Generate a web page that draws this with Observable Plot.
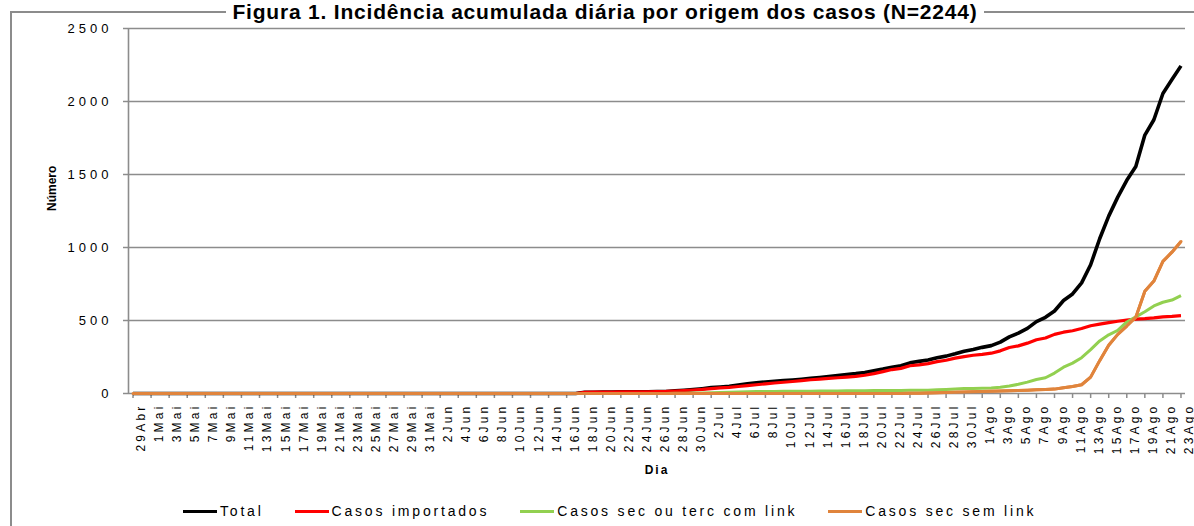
<!DOCTYPE html>
<html><head><meta charset="utf-8">
<script src="https://cdn.jsdelivr.net/npm/d3@7"></script>
<script src="https://cdn.jsdelivr.net/npm/@observablehq/plot@0.6"></script>
<style>
html,body{margin:0;padding:0;background:#fff;overflow:hidden;width:1194px;height:526px;position:relative;font-family:"Liberation Sans",Arial,sans-serif;}
#titlewrap{position:absolute;left:10px;width:1190px;top:0px;text-align:center;}
#title{display:inline-block;background:#fff;padding:0 6px;font:bold 21px/24px "Liberation Sans",sans-serif;letter-spacing:0.8px;color:#000;white-space:nowrap;}
#frame{position:absolute;left:10px;top:11px;width:1210px;height:600px;border:2px solid #8c8c8c;box-sizing:border-box;}
#chart{position:absolute;left:0;top:0;}
#legend{position:absolute;top:503px;left:183px;display:flex;align-items:center;font-size:14px;letter-spacing:2.8px;color:#000;white-space:nowrap;}
#legend .item{display:flex;align-items:center;margin-right:31px;}
#legend .sw{display:inline-block;width:34px;height:3px;margin-right:3px;}
#chart svg g[aria-label="y-axis tick label"] text{letter-spacing:4px;}
</style></head>
<body>
<div id="frame"></div>
<div id="titlewrap"><span id="title">Figura 1. Incidência acumulada diária por origem dos casos (N=2244)</span></div>
<div id="chart"></div>
<div id="legend"></div>
<script>
// ---- data ----
const dayLabels = ["29Abr","1Mai","3Mai","5Mai","7Mai","9Mai","11Mai","13Mai","15Mai","17Mai","19Mai","21Mai","23Mai","25Mai","27Mai","29Mai","31Mai",
  "2Jun","4Jun","6Jun","8Jun","10Jun","12Jun","14Jun","16Jun","18Jun","20Jun","22Jun","24Jun","26Jun","28Jun","30Jun",
  "2Jul","4Jul","6Jul","8Jul","10Jul","12Jul","14Jul","16Jul","18Jul","20Jul","22Jul","24Jul","26Jul","28Jul","30Jul",
  "1Ago","3Ago","5Ago","7Ago","9Ago","11Ago","13Ago","15Ago","17Ago","19Ago","21Ago","23Ago"];

const total = [
  0,0,0,0,0,0,0,0,0,0, 0,0,0,0,0,0,0,0,0,0, 0,0,0,0,0,0,0,0,0,0, 0,0,0,0,0,0,0,0,0,0, 0,0,0,0,0,0,0,0,0,0,
  8,9,10,10,11,11,12,12,13,14,
  18,22,27,33,40,45,50,58,66,73,
  79,84,89,93,98,104,110,116,123,130,
  136,144,156,167,180,190,210,220,230,245,
  256,272,290,302,316,328,352,388,414,446,
  492,522,565,637,682,758,882,1060,1215,1345,
  1460,1555,1770,1875,2055,2150,2244];

const importados = [
  0,0,0,0,0,0,0,0,0,0, 0,0,0,0,0,0,0,0,0,0, 0,0,0,0,0,0,0,0,0,0, 0,0,0,0,0,0,0,0,0,0, 0,0,0,0,0,0,0,0,0,0,
  8,9,10,10,11,11,12,12,13,14,
  17,20,24,28,34,38,42,48,54,60,
  66,72,77,82,88,94,99,104,108,112,
  117,125,136,150,164,172,190,196,205,218,
  228,242,253,262,268,276,292,315,326,345,
  368,380,405,420,430,445,464,475,485,495,
  502,510,513,518,525,528,533];

const secComLink = [
  0,0,0,0,0,0,0,0,0,0, 0,0,0,0,0,0,0,0,0,0, 0,0,0,0,0,0,0,0,0,0, 0,0,0,0,0,0,0,0,0,0, 0,0,0,0,0,0,0,0,0,0,
  0,0,0,0,0,0,0,0,0,0,
  1,2,3,4,5,6,8,10,12,13,
  13,14,15,15,16,16,17,17,17,18,
  19,19,20,20,21,21,22,22,23,25,
  28,31,34,35,36,37,43,52,63,78,
  96,108,140,180,208,245,300,360,402,432,
  490,525,560,600,625,640,670];

const secSemLink = [
  0,0,0,0,0,0,0,0,0,0, 0,0,0,0,0,0,0,0,0,0, 0,0,0,0,0,0,0,0,0,0, 0,0,0,0,0,0,0,0,0,0, 0,0,0,0,0,0,0,0,0,0,
  0,0,0,0,0,0,0,0,0,0,
  0,0,0,0,0,0,0,0,0,0,
  0,0,0,0,0,0,0,0,0,0,
  0,0,0,0,0,0,1,2,3,5,
  7,9,11,12,14,15,17,19,21,23,
  26,28,30,40,48,60,112,225,330,405,
  462,522,700,770,905,968,1041];

const seriesNames = ["Total","Casos importados","Casos sec ou terc com link","Casos sec sem link"];
const seriesValues = [total, importados, secComLink, secSemLink];
const seriesColors = ["#000000","#ff0000","#92d050","#e0843c"];
const seriesWidths = [3.6,3.2,3,3];
const yTicks = [0,500,1000,1500,2000,2500];

// ---- build ----
const nDays = total.length;
const labelDays = dayLabels.map((_, k) => 2 * k);
const grid = "#8c8c8c";

const lineMarks = seriesNames.map((name, s) =>
  Plot.line(seriesValues[s].map((v, i) => ({day: i, value: v})),
    {x: "day", y: "value", stroke: seriesColors[s], strokeWidth: seriesWidths[s], strokeLinejoin: "round", strokeLinecap: "butt"}));

const chart = Plot.plot({
  width: 1194, height: 480,
  marginLeft: 128, marginRight: 9, marginTop: 28, marginBottom: 87,
  style: {fontFamily: "'Liberation Sans', Arial, sans-serif", background: "transparent", overflow: "visible"},
  x: {domain: [-0.5, nDays - 0.5], axis: null},
  y: {domain: [0, 2500], axis: null},
  marks: [
    Plot.ruleY(yTicks.slice(1), {stroke: grid, strokeWidth: 1.6}),
    Plot.axisY(yTicks, {tickSize: 5, tickPadding: 11, tickFormat: d => String(d), stroke: grid, strokeWidth: 1.5, fontSize: 13, fill: "#000", label: null}),
    Plot.axisX(labelDays, {tickSize: 5, tickFormat: () => "", stroke: grid, strokeWidth: 1.5, label: null}),
    Plot.text(labelDays, {x: d => d, text: (d, k) => dayLabels[k], frameAnchor: "bottom", rotate: -90, textAnchor: "end", dy: 10, dx: 12, fontSize: 12, fill: "#000"}),
    Plot.text(["Dia"], {frameAnchor: "bottom", dy: 80, fontWeight: "bold", fontSize: 12, fill: "#000"}),
    Plot.text(["Número"], {frameAnchor: "left", dx: -76, rotate: -90, fontWeight: "bold", fontSize: 12, fill: "#000"}),
    ...lineMarks,
    Plot.ruleX([-0.5], {stroke: grid, strokeWidth: 1.6}),
    Plot.ruleY([0], {stroke: grid, strokeWidth: 1.6}),
    Plot.line(secSemLink.map((v, i) => ({day: i, value: v})), {x: "day", y: "value", stroke: seriesColors[3], strokeWidth: 3})
  ]
});
document.getElementById("chart").appendChild(chart);

// letter spacing for x labels / axis title
chart.querySelectorAll("text").forEach(t => {
  if (t.textContent === "Dia") t.setAttribute("letter-spacing", "2px");
});
chart.querySelectorAll('g[aria-label="text"]').forEach(g => {
  if (g.textContent.includes("Abr")) g.setAttribute("letter-spacing", "3.2px");
});

// legend
const legend = document.getElementById("legend");
seriesNames.forEach((name, s) => {
  const item = document.createElement("div");
  item.className = "item";
  const sw = document.createElement("span");
  sw.className = "sw";
  sw.style.background = seriesColors[s];
  const lab = document.createElement("span");
  lab.textContent = name;
  item.appendChild(sw); item.appendChild(lab);
  legend.appendChild(item);
});
</script>
</body></html>
